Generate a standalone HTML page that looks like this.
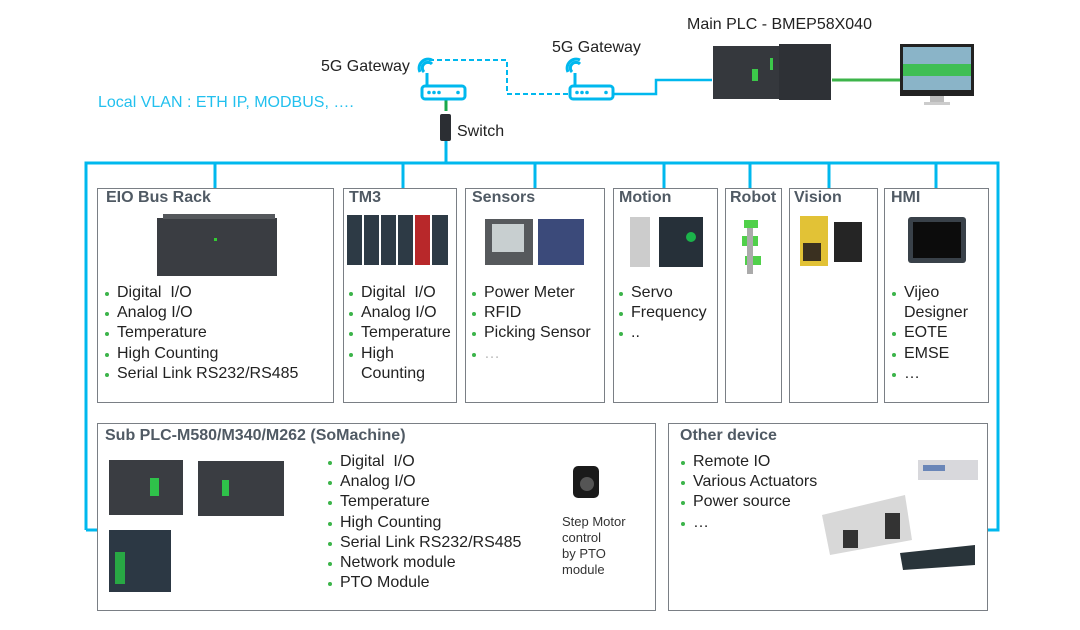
<!DOCTYPE html>
<html><head><meta charset="utf-8">
<style>
body{margin:0;background:#fff;}
#c{position:relative;width:1080px;height:630px;overflow:hidden;font-family:"Liberation Sans",Arial,sans-serif;}
.t{position:absolute;white-space:nowrap;color:#222;}
.h{position:absolute;font-weight:bold;font-size:16px;color:#505a64;}
.l{position:absolute;font-size:16px;line-height:20.2px;color:#222;white-space:nowrap;}
.l div{position:relative;padding-left:12px;}
.l div.b:before{content:"";position:absolute;left:0px;top:9px;width:4px;height:4px;border-radius:50%;background:#3cb44a;}
.box{position:absolute;border:1.3px solid #7a7f85;box-sizing:border-box;}
</style></head><body><div id="c">
<svg width="1080" height="630" style="position:absolute;left:0;top:0">
<g stroke="#00b8ee" stroke-width="3" fill="none">
<polyline points="86,530 86,163 998,163 998,530 987,530"/>
<polyline points="86,530 97,530"/>
<line x1="446" y1="140" x2="446" y2="163"/>
<line x1="215" y1="163" x2="215" y2="188"/>
<line x1="403" y1="163" x2="403" y2="188"/>
<line x1="535" y1="163" x2="535" y2="188"/>
<line x1="664" y1="163" x2="664" y2="188"/>
<line x1="750" y1="163" x2="750" y2="188"/>
<line x1="829" y1="163" x2="829" y2="188"/>
<line x1="936" y1="163" x2="936" y2="188"/>
<polyline points="612,94 656,94 656,80 712,80" stroke-width="2.5"/>
<polyline points="429,60 507,60 507,94 568,94" stroke-dasharray="5,3" stroke-width="2"/>
</g>
<line x1="446" y1="100" x2="446" y2="111" stroke="#1aa84a" stroke-width="3"/>
<line x1="832" y1="80" x2="900" y2="80" stroke="#3cb44a" stroke-width="3"/>
<g fill="none" stroke="#00b8ee" stroke-width="3">
<rect x="422" y="86" width="43" height="13" rx="3"/>
<rect x="570" y="86" width="43" height="13" rx="3"/>
<line x1="427" y1="73" x2="427" y2="86"/>
<line x1="575" y1="73" x2="575" y2="86"/>
<path d="M424,72 a5,5 0 0 1 8,-8 M420,72 a9,9 0 0 1 12,-12"/>
<path d="M572,72 a5,5 0 0 1 8,-8 M568,72 a9,9 0 0 1 12,-12"/>
</g>
<g fill="#00b8ee"><circle cx="429" cy="92.5" r="1.8"/><circle cx="434" cy="92.5" r="1.8"/><circle cx="439" cy="92.5" r="1.8"/><circle cx="458" cy="92.5" r="1.8"/>
<circle cx="577" cy="92.5" r="1.8"/><circle cx="582" cy="92.5" r="1.8"/><circle cx="587" cy="92.5" r="1.8"/><circle cx="606" cy="92.5" r="1.8"/></g>
<rect x="440" y="114" width="11" height="27" rx="2" fill="#2b2e33"/>
<rect x="713" y="46" width="70" height="53" fill="#35383d"/><rect x="779" y="44" width="52" height="56" fill="#2e3136"/>
<rect x="752" y="69" width="6" height="12" fill="#3cc84a"/><rect x="770" y="58" width="3" height="12" fill="#3cc84a"/>
<rect x="900" y="44" width="74" height="52" fill="#222"/><rect x="903" y="47" width="68" height="43" fill="#8ab4c8"/><rect x="903" y="64" width="68" height="12" fill="#3fbf55"/>
<rect x="930" y="96" width="14" height="6" fill="#bbb"/><rect x="924" y="102" width="26" height="3" fill="#ccc"/>
<rect x="157" y="218" width="120" height="58" fill="#3a3d42"/><rect x="163" y="214" width="112" height="5" fill="#55585c"/>
<rect x="214" y="238" width="3" height="3" fill="#3c3"/>
<rect x="347" y="215" width="15" height="50" fill="#2d3a45"/><rect x="364" y="215" width="15" height="50" fill="#2d3a45"/><rect x="381" y="215" width="15" height="50" fill="#2d3a45"/><rect x="398" y="215" width="15" height="50" fill="#2d3a45"/><rect x="415" y="215" width="15" height="50" fill="#b8282a"/><rect x="432" y="215" width="16" height="50" fill="#2d3a45"/>
<rect x="485" y="219" width="48" height="46" fill="#56595c"/><rect x="492" y="224" width="32" height="28" fill="#c8cfd0"/>
<rect x="538" y="219" width="46" height="46" fill="#3b4a7a"/>
<rect x="630" y="217" width="20" height="50" fill="#ccc"/><rect x="659" y="217" width="44" height="50" fill="#263039"/><circle cx="691" cy="237" r="5" fill="#1bb34a"/>
<rect x="744" y="220" width="14" height="8" fill="#50d04a"/><rect x="742" y="236" width="16" height="10" fill="#50d04a"/><rect x="745" y="256" width="16" height="9" fill="#50d04a"/><rect x="747" y="228" width="6" height="46" fill="#aaa"/>
<rect x="800" y="216" width="28" height="50" fill="#e2c236"/><rect x="803" y="243" width="18" height="18" fill="#3a3020"/><rect x="834" y="222" width="28" height="40" fill="#252525"/>
<rect x="908" y="217" width="58" height="46" rx="3" fill="#394149"/><rect x="913" y="222" width="48" height="36" fill="#0c0c0c"/>
<rect x="109" y="460" width="74" height="55" fill="#3a3d42"/><rect x="150" y="478" width="9" height="18" fill="#2fc24a"/>
<rect x="198" y="461" width="86" height="55" fill="#3a3d42"/><rect x="222" y="480" width="7" height="16" fill="#2fc24a"/>
<rect x="109" y="530" width="62" height="62" fill="#2c3844"/><rect x="115" y="552" width="10" height="32" fill="#28a844"/>
<rect x="573" y="466" width="26" height="32" rx="5" fill="#1a1a1a"/><circle cx="587" cy="484" r="7" fill="#555"/>
<rect x="918" y="460" width="60" height="20" fill="#d8d8dc"/><rect x="923" y="465" width="22" height="6" fill="#6a86b8"/>
<polygon points="822,515 905,495 912,540 830,555" fill="#d8d8d8"/><rect x="843" y="530" width="15" height="18" fill="#333"/><rect x="885" y="513" width="15" height="26" fill="#333"/>
<polygon points="900,553 975,545 975,565 903,570" fill="#29343a"/>
</svg>

<div class="t" style="left:321px;top:58px;font-size:16px">5G Gateway</div>
<div class="t" style="left:552px;top:39px;font-size:16px">5G Gateway</div>
<div class="t" style="left:687px;top:16px;font-size:16px">Main PLC - BMEP58X040</div>
<div class="t" style="left:98px;top:94px;font-size:16px;color:#22c0ee">Local VLAN : ETH IP, MODBUS, ….</div>
<div class="t" style="left:457px;top:123px;font-size:16px">Switch</div>

<div class="box" style="left:97px;top:188px;width:237px;height:215px"></div>
<div class="box" style="left:343px;top:188px;width:114px;height:215px"></div>
<div class="box" style="left:465px;top:188px;width:140px;height:215px"></div>
<div class="box" style="left:613px;top:188px;width:105px;height:215px"></div>
<div class="box" style="left:725px;top:188px;width:57px;height:215px"></div>
<div class="box" style="left:789px;top:188px;width:89px;height:215px"></div>
<div class="box" style="left:884px;top:188px;width:105px;height:215px"></div>
<div class="box" style="left:97px;top:423px;width:559px;height:188px"></div>
<div class="box" style="left:668px;top:423px;width:320px;height:188px"></div>

<div class="h" style="left:106px;top:189px">EIO Bus Rack</div>
<div class="h" style="left:349px;top:189px">TM3</div>
<div class="h" style="left:472px;top:189px">Sensors</div>
<div class="h" style="left:619px;top:189px">Motion</div>
<div class="h" style="left:730px;top:189px">Robot</div>
<div class="h" style="left:794px;top:189px">Vision</div>
<div class="h" style="left:891px;top:189px">HMI</div>
<div class="h" style="left:105px;top:427px">Sub PLC-M580/M340/M262 (SoMachine)</div>
<div class="h" style="left:680px;top:427px">Other device</div>

<div class="l" style="left:105px;top:283px"><div class="b">Digital&nbsp; I/O</div><div class="b">Analog I/O</div><div class="b">Temperature</div><div class="b">High Counting</div><div class="b">Serial Link RS232/RS485</div></div>
<div class="l" style="left:349px;top:283px"><div class="b">Digital&nbsp; I/O</div><div class="b">Analog I/O</div><div class="b">Temperature</div><div class="b">High</div><div>Counting</div></div>
<div class="l" style="left:472px;top:283px"><div class="b">Power Meter</div><div class="b">RFID</div><div class="b">Picking Sensor</div><div class="b" style="color:#bbb">…</div></div>
<div class="l" style="left:619px;top:283px"><div class="b">Servo</div><div class="b">Frequency</div><div class="b">..</div></div>
<div class="l" style="left:892px;top:283px"><div class="b">Vijeo</div><div>Designer</div><div class="b">EOTE</div><div class="b">EMSE</div><div class="b">…</div></div>
<div class="l" style="left:328px;top:452px"><div class="b">Digital&nbsp; I/O</div><div class="b">Analog I/O</div><div class="b">Temperature</div><div class="b">High Counting</div><div class="b">Serial Link RS232/RS485</div><div class="b">Network module</div><div class="b">PTO Module</div></div>
<div class="l" style="left:681px;top:452px"><div class="b">Remote IO</div><div class="b">Various Actuators</div><div class="b">Power source</div><div class="b">…</div></div>
<div class="t" style="left:562px;top:514px;font-size:13px;line-height:16px;color:#333">Step Motor<br>control<br>by PTO<br>module</div>
</div></body></html>
